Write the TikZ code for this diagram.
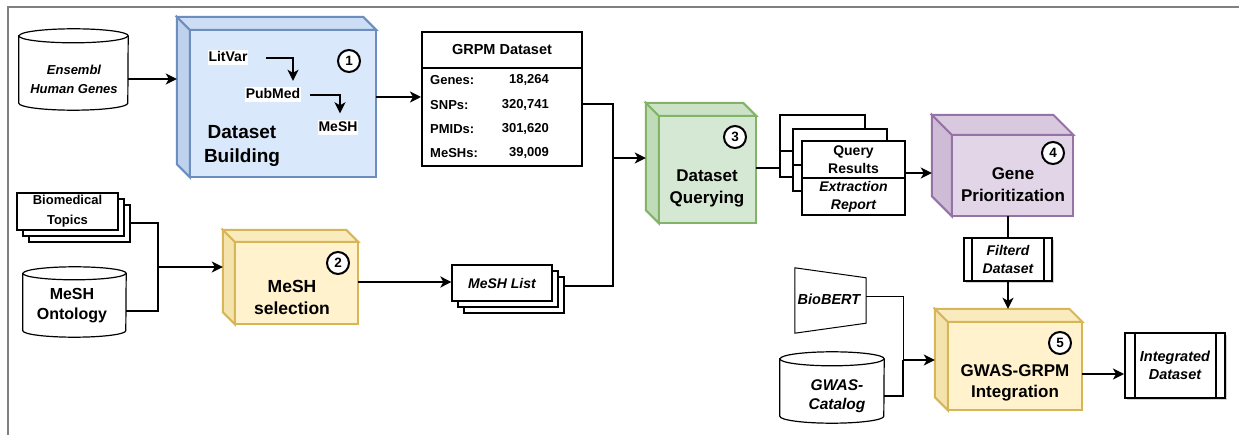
\documentclass[tikz,border=0pt]{standalone}
\usepackage{fontspec}
\setmainfont{Liberation Sans}
\usetikzlibrary{arrows.meta,shadows}

\definecolor{blfill}{HTML}{DAE8FC}
\definecolor{blline}{HTML}{6C8EBF}
\definecolor{ylfill}{HTML}{FFF2CC}
\definecolor{ylline}{HTML}{D6B656}
\definecolor{gnfill}{HTML}{D5E8D4}
\definecolor{gnline}{HTML}{82B366}
\definecolor{pufill}{HTML}{E1D5E7}
\definecolor{puline}{HTML}{9673A6}

% faces of a box drawn inside the bounding node #1, depth #2
\newcommand{\cubefaces}[4]{%
	\filldraw[draw=#4,line width=2pt,fill=#3!75!#4] (#1.north west) -- ++(#2,#2) -- ([xshift=#2pt]#1.south west) -- ([yshift=#2pt]#1.south west) -- cycle;
	\filldraw[draw=#4,line width=2pt,fill=#3!88!#4] (#1.north west) -- ([xshift=-#2pt]#1.north east) -- ++(#2,#2) -- ([shift={(#2,#2)}]#1.north west) -- cycle;
	\filldraw[draw=#4,line width=2pt,fill=#3] ([shift={(#2,#2)}]#1.north west) rectangle (#1.south east);
}
% database drum round node #1, radii #2 and #3
\newcommand{\drum}[3]{%
	\draw[drumline] ([yshift=-#3pt]#1.north west) -- ([yshift=#3pt]#1.south west)
		arc[start angle=180,end angle=360,x radius=#2pt,y radius=#3pt]
		-- ([yshift=-#3pt]#1.north east)
		arc[start angle=0,end angle=180,x radius=#2pt,y radius=#3pt] -- cycle;
	\draw[drumline] ([yshift=-#3pt]#1.north west) arc[start angle=180,end angle=360,x radius=#2pt,y radius=#3pt];
}

\begin{document}
\begin{tikzpicture}[x=1pt,y=-1pt,
	line/.style={line width=2pt},
	thinline/.style={line width=1pt},
	arr/.style={line width=2pt,-{Stealth[length=11pt,width=11pt,inset=3pt]}},
	frame/.style={line width=2pt,draw=black!50},
	drumline/.style={line width=1.2pt,fill=white},
	box/.style={inner sep=0pt},
	bigtitle/.style={align=center,font=\bfseries\fontsize{19}{24}\selectfont},
	title/.style={align=center,font=\bfseries\fontsize{17}{22}\selectfont},
	label/.style={align=center,inner sep=1pt,font=\bfseries\fontsize{14}{18}\selectfont},
	ilabel/.style={label,font=\bfseries\itshape\fontsize{14}{18}\selectfont},
	tag/.style={label,fill=white,text height=10pt,text depth=3pt},
	cell/.style={inner sep=0pt,font=\bfseries\fontsize{13}{16}\selectfont},
	num/.style={circle,draw,line width=2pt,fill=white,minimum size=22pt,inner sep=0pt,font=\bfseries\fontsize{13.5}{16}\selectfont},
	sheet/.style={draw,fill=white,line width=2pt,inner sep=0pt,align=center},
	stack/.style={draw,fill=white,line width=1.2pt,inner sep=0pt,align=center,
		double copy shadow={shadow xshift=6pt,shadow yshift=-6pt}},
	proc/.style={sheet,drop shadow={shadow xshift=2pt,shadow yshift=-2pt,opacity=0.35}}]

	\useasboundingbox[fill=white] (0,0) rectangle (1239,435);
	\draw[frame] (8,435) -- (8,7) -- (1239,7);

	% dataset building
	\node[box,minimum width=109pt,minimum height=81pt] (ensembl) at (73.5,69.5) {};
	\drum{ensembl}{54.5}{7}
	\node[ilabel,font=\bfseries\itshape\fontsize{13}{19}\selectfont] (ensembltxt) at (74,79.5) {Ensembl\\Human Genes};

	\node[box,minimum width=199pt,minimum height=160pt] (build) at (276.5,97) {};
	\cubefaces{build}{13}{blfill}{blline}
	\draw[blline,line width=2.5pt] ([shift={(13,13)}]build.north west) rectangle (build.south east);
	\node[tag] (litvar) at (228,58) {LitVar};
	\node[tag] (pubmed) at (273,95) {PubMed};
	\node[tag] (meshterm) at (338,128) {MeSH};
	\draw[arr] ([xshift=17pt]litvar.east) -| ([xshift=20pt,yshift=6.5pt]pubmed.north);
	\draw[arr] ([xshift=9pt]pubmed.east) -| ([xshift=2pt,yshift=7pt]meshterm.north);
	\node[bigtitle] (buildtxt) at (242,146) {Dataset\\Building};
	\node[num] (c1) at (349,61) {1};

	\draw[arr] ([yshift=-9.5pt]ensembl.east) -- ([yshift=-9.5pt]ensembl.east -| build.west);

	% GRPM table
	\node[sheet,minimum width=160pt,minimum height=36pt,font=\bfseries\fontsize{14.5}{18}\selectfont] (grpmhead) at (502,50) {GRPM Dataset};
	\node[sheet,minimum width=160pt,minimum height=98pt] (grpm) at (502,117) {};
	\node[cell,anchor=west] (genes) at (430,80) {Genes:};
	\node[cell,anchor=east] (genesval) at (549,80) {18,264};
	\node[cell,anchor=west] (snps) at (430,105) {SNPs:};
	\node[cell,anchor=east] (snpsval) at (549,105) {320,741};
	\node[cell,anchor=west] (pmids) at (430,129) {PMIDs:};
	\node[cell,anchor=east] (pmidsval) at (549,129) {301,620};
	\node[cell,anchor=west] (meshs) at (430,153) {MeSHs:};
	\node[cell,anchor=east] (meshsval) at (549,153) {39,009};

	\draw[arr] (build.east) -- (build.east -| grpm.west);

	% MeSH selection
	\node[stack,minimum width=101pt,minimum height=37pt,font=\bfseries\fontsize{13}{20}\selectfont] (topics) at (67.5,211.5) {Biomedical\\Topics};
	\node[box,minimum width=103pt,minimum height=70pt] (ontology) at (74.5,302) {};
	\drum{ontology}{51.5}{6.5}
	\node[label,font=\bfseries\fontsize{16}{20}\selectfont] (ontologytxt) at (72,306) {MeSH\\Ontology};

	\node[box,minimum width=135pt,minimum height=94pt] (select) at (290.5,277) {};
	\cubefaces{select}{12}{ylfill}{ylline}
	\node[title,font=\bfseries\fontsize{17.5}{22}\selectfont] (selecttxt) at (292,297) {MeSH\\selection};
	\node[num] (c2) at (338,263) {2};

	\coordinate (mjoin) at (158,267);
	\draw[line] ([shift={(12,11.5)}]topics.east) -| (mjoin);
	\draw[line] ([yshift=-9pt]ontology.east) -| (mjoin);
	\draw[arr] (mjoin) -- (mjoin -| select.west);

	\node[stack,minimum width=100pt,minimum height=36pt,font=\bfseries\itshape\fontsize{14}{18}\selectfont] (meshlist) at (502,283) {MeSH List};
	\draw[arr] ([yshift=-5pt]select.east) -- ([yshift=-5pt]select.east -| meshlist.west);

	% dataset querying
	\node[box,minimum width=110pt,minimum height=120pt] (query) at (701,163) {};
	\cubefaces{query}{13}{gnfill}{gnline}
	\node[title] (querytxt) at (707,188) {Dataset\\Querying};
	\node[num] (c3) at (735,137) {3};

	\coordinate (qjoin) at (613,158);
	\draw[line] ([yshift=13pt]grpm.east) -| (qjoin);
	\draw[line] ([shift={(12,3)}]meshlist.east) -| (qjoin);
	\draw[arr] (qjoin) -- (qjoin -| query.west);

	\node[sheet,minimum width=85pt,minimum height=62pt] (qback) at (822.5,146) {};
	\draw[line] ([yshift=-37pt]qback.north west) -- ([yshift=-37pt]qback.north east);
	\node[sheet,minimum width=94pt,minimum height=62pt] (qmid) at (840,160) {};
	\draw[line] ([yshift=-37pt]qmid.north west) -- ([yshift=-37pt]qmid.north east);
	\node[sheet,minimum width=103pt,minimum height=37pt,font=\bfseries\fontsize{14}{18}\selectfont] (qres) at (853.5,159.5) {Query\\Results};
	\node[sheet,minimum width=103pt,minimum height=37pt,font=\bfseries\itshape\fontsize{14}{18}\selectfont] (qrep) at (853.5,196.5) {Extraction\\Report};

	\draw[line] ([yshift=-5pt]query.east) -- ([yshift=-5pt]query.east -| qback.west);

	% gene prioritization
	\node[box,minimum width=141pt,minimum height=101pt] (prio) at (1002.5,165.5) {};
	\cubefaces{prio}{20}{pufill}{puline}
	\node[title] (priotxt) at (1013,185) {Gene\\Prioritization};
	\node[num] (c4) at (1053,153) {4};

	\draw[arr] ([yshift=-13.5pt]qres.east) -- ([yshift=-13.5pt]qres.east -| prio.west);

	\node[proc,minimum width=88pt,minimum height=43pt,font=\bfseries\itshape\fontsize{14}{18}\selectfont] (filt) at (1008,259.5) {Filterd\\Dataset};
	\draw[line] ([xshift=9pt]filt.north west) -- ([xshift=9pt]filt.south west);
	\draw[line] ([xshift=-9pt]filt.north east) -- ([xshift=-9pt]filt.south east);
	\draw[line] (filt.north |- prio.south) -- (filt.north);

	% GWAS-GRPM integration
	\node[box,minimum width=71pt,minimum height=65pt] (bert) at (830.5,300.5) {};
	\draw[thinline] (bert.north west) -- ([yshift=-10pt]bert.north east) -- ([yshift=10pt]bert.south east) -- (bert.south west) -- cycle;
	\node[ilabel,font=\bfseries\itshape\fontsize{14.5}{18}\selectfont] (berttxt) at (829,299) {BioBERT};

	\node[box,minimum width=104pt,minimum height=71pt] (gcat) at (832,387.5) {};
	\drum{gcat}{52}{7}
	\node[ilabel,font=\bfseries\itshape\fontsize{15.5}{19}\selectfont] (gcattxt) at (837,396.5) {GWAS-\\Catalog};

	\node[box,minimum width=147pt,minimum height=101pt] (integ) at (1008.5,359.5) {};
	\cubefaces{integ}{13}{ylfill}{ylline}
	\node[title,font=\bfseries\fontsize{17}{21}\selectfont] (integtxt) at (1015,383) {GWAS-GRPM\\Integration};
	\node[num] (c5) at (1060,343) {5};

	\draw[arr] (filt.south) -- (filt.south |- integ.north);

	\coordinate (ijoin) at (903,360);
	\draw[thinline] ([yshift=3.5pt]bert.east) -| (ijoin);
	\draw[line] ([yshift=-8.5pt]gcat.east) -| (ijoin);
	\draw[arr] (ijoin) -- (ijoin -| integ.west);

	\node[proc,minimum width=100pt,minimum height=65pt,font=\bfseries\itshape\fontsize{14.5}{18}\selectfont] (intd) at (1175,365.5) {Integrated\\Dataset};
	\draw[line] ([xshift=11pt]intd.north west) -- ([xshift=11pt]intd.south west);
	\draw[line] ([xshift=-10pt]intd.north east) -- ([xshift=-10pt]intd.south east);

	\draw[arr] ([yshift=-14.5pt]integ.east) -- ([yshift=-14.5pt]integ.east -| intd.west);
\end{tikzpicture}
\end{document}
